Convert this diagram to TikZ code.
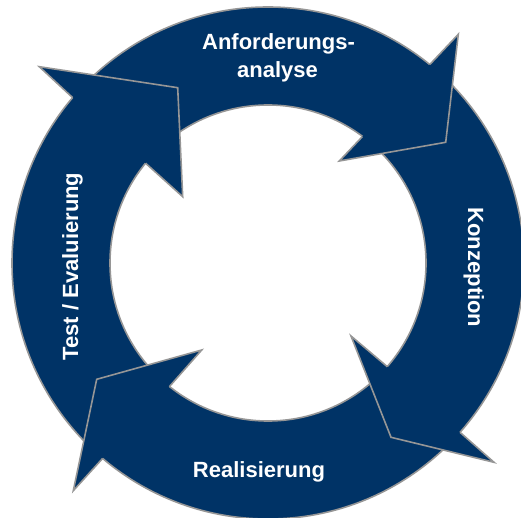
\documentclass[tikz,border=0pt]{standalone}
\usepackage{fontspec}
\setmainfont{Liberation Sans}
\definecolor{navy}{RGB}{0,51,102}
\definecolor{rimgray}{RGB}{150,150,150}
\tikzset{
  ringfill/.style={fill=navy, even odd rule},
  rim/.style={draw=rimgray, line width=1.6pt, line join=miter},
  headfill/.style={fill=navy},
  lbl/.style={text=white, font=\fontsize{22}{26}\selectfont\bfseries, inner sep=0pt, anchor=base}
}
\begin{document}
\begin{tikzpicture}[x=1pt,y=-1pt]
\useasboundingbox (0,0) rectangle (521,518);
\clip (0,0) rectangle (521,518);
% ring (arrow bodies)
\coordinate (c) at (268,263);
\fill[ringfill] (c) circle[radius=256pt] (c) circle[radius=158pt];
\draw[rim] (c) circle[radius=256pt];
\draw[rim] (c) circle[radius=158pt];
% head: Anforderungsanalyse -> Konzeption
\coordinate (a1) at (430,64.3);
\coordinate (a2) at (458.3,34.3);
\coordinate (a3) at (445.7,142.3);
\coordinate (a4) at (339.3,161);
\coordinate (a5) at (362.3,136.7);
\fill[headfill] (a1) -- (a2) -- (a3) -- (a4) -- (a5) -- cycle;
\draw[rim] (a1) -- (a2) -- (a3) -- (a4) -- (a5);
% head: Konzeption -> Realisierung
\coordinate (k1) at (460,432.3);
\coordinate (k2) at (494,462.3);
\coordinate (k3) at (391,437.3);
\coordinate (k4) at (351,336);
\coordinate (k5) at (387.3,366.7);
\fill[headfill] (k1) -- (k2) -- (k3) -- (k4) -- (k5) -- cycle;
\draw[rim] (k1) -- (k2) -- (k3) -- (k4) -- (k5);
% head: Realisierung -> Test
\coordinate (r1) at (102.7,458.3);
\coordinate (r2) at (73.3,490.7);
\coordinate (r3) at (96.7,379.3);
\coordinate (r4) at (201.7,350);
\coordinate (r5) at (169.3,386.7);
\fill[headfill] (r1) -- (r2) -- (r3) -- (r4) -- (r5) -- cycle;
\draw[rim] (r1) -- (r2) -- (r3) -- (r4) -- (r5);
% head: Test -> Anforderungsanalyse
\coordinate (t1) at (72.7,97.7);
\coordinate (t2) at (39.3,66.7);
\coordinate (t3) at (177.7,87.7);
\coordinate (t4) at (182.7,196.7);
\coordinate (t5) at (145.7,163.3);
\fill[headfill] (t1) -- (t2) -- (t3) -- (t4) -- (t5) -- cycle;
\draw[rim] (t1) -- (t2) -- (t3) -- (t4) -- (t5);
% labels
\node[lbl] (anf1) at (278.5,50) {Anforderungs-};
\node[lbl] (anf2) at (277.5,78) {analyse};
\node[lbl, rotate=-90] (konz) at (468,267.5) {Konzeption};
\node[lbl] (real) at (259,477) {Realisierung};
\node[lbl, rotate=90] (test) at (78,266.5) {Test / Evaluierung};
\end{tikzpicture}
\end{document}
